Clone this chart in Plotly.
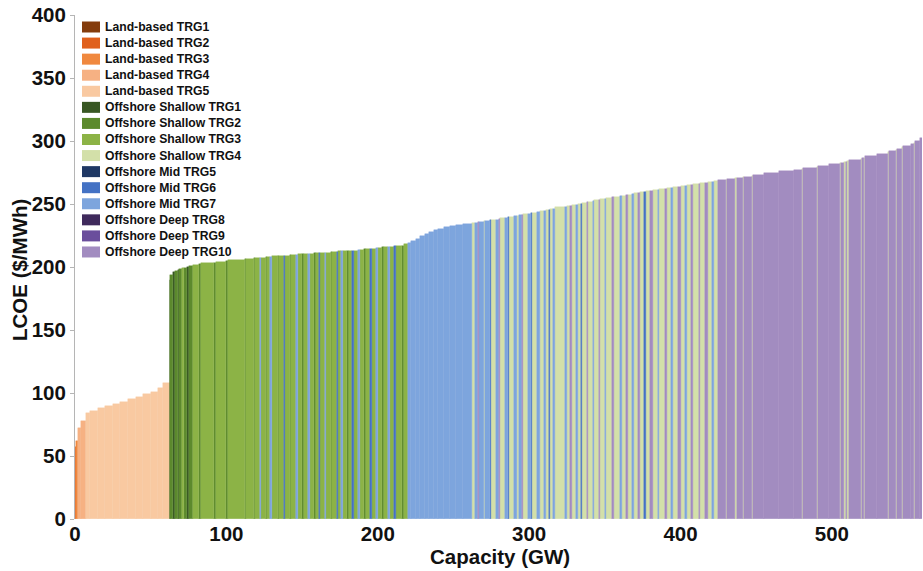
import plotly.graph_objects as go

# ---------------- data ----------------
trg_names = [
    "Land-based TRG1", "Land-based TRG2", "Land-based TRG3", "Land-based TRG4", "Land-based TRG5",
    "Offshore Shallow TRG1", "Offshore Shallow TRG2", "Offshore Shallow TRG3", "Offshore Shallow TRG4",
    "Offshore Mid TRG5", "Offshore Mid TRG6", "Offshore Mid TRG7",
    "Offshore Deep TRG8", "Offshore Deep TRG9", "Offshore Deep TRG10",
]
trg_codes = ["L1", "L2", "L3", "L4", "L5", "S1", "S2", "S3", "S4", "M5", "M6", "M7", "D8", "D9", "D10"]
trg_colors = [
    "#843C0C", "#E0601C", "#F0883E", "#F6B183", "#F9C9A1",
    "#385723", "#5C8A2D", "#8CB346", "#D3E0A9",
    "#1F3864", "#4472C4", "#7DA5DD",
    "#3F2A5C", "#6A4E9C", "#A28CC0",
]

# cumulative capacity (GW) at the end of each supply-curve step
seg_end = [
    0.6, 2.0, 4.0, 7.0, 10, 15, 20, 25, 30, 35, 40, 45, 50, 55, 58, 62.5,
    63, 64.5, 66, 68, 69, 71, 72, 74, 75, 78, 82, 83, 92, 93, 100, 101, 112, 113, 118, 119,
    122, 123, 126, 127, 129, 130, 134, 135, 138, 139, 142, 143, 146, 147, 150, 151, 154, 155,
    158, 159, 161, 162, 165, 166, 169, 170, 173, 174, 176, 177, 180, 181, 183, 184, 187, 188,
    191, 192, 195, 196, 199, 200, 203, 204, 207, 208, 211, 212, 216, 217, 220,
    222, 225, 228, 231, 234, 237, 240, 244, 248, 252, 256, 262,
    264, 266, 267, 270, 271, 274, 275, 278, 280, 281, 284, 286, 287, 290, 292, 293, 295, 296,
    299, 301, 302, 305, 307, 310, 311, 313, 314, 316, 317, 324, 325, 327, 328, 331, 332, 334,
    335, 338, 339, 342, 343, 346, 347, 350, 351, 355, 356, 360, 361, 364, 365, 368, 369, 372,
    373, 376, 377, 380, 382, 385, 386, 390, 391, 394, 395, 398, 400, 403, 404, 407, 408, 412,
    413, 416, 418, 421, 422, 425,
    430, 431, 436, 437, 441, 442, 447, 448, 455, 465, 475, 480, 481, 490, 491, 498, 505, 506,
    508, 509, 510, 511, 519, 520, 521, 522, 530, 537, 538, 542, 543, 546, 547, 552, 554, 555,
    558, 560,
]

# LCOE ($/MWh) of each step
seg_lcoe = [
    57, 62, 72, 78, 84, 86, 88, 90, 91.5, 93, 95, 97, 99, 101, 104, 108,
    190, 194, 196, 197, 198, 198.5, 199, 199.5, 200, 201, 201.5, 202, 203, 203.5, 204, 204.5,
    205.5, 206, 206.5, 207, 207, 207.5, 207.5, 208, 208, 208, 208.5, 208.5, 209, 209, 209,
    209.5, 209.5, 209.5, 210, 210, 210, 210.5, 210.5, 211, 211, 211, 211, 211.5, 211.5, 212,
    212, 212, 212.5, 212.5, 212.5, 213, 213, 213, 213, 213.5, 213.5, 214, 214, 214, 214.5, 215,
    215, 215.5, 215.5, 216, 216, 216.5, 217, 217, 218,
    219, 220.5, 222.5, 224.5, 226.5, 228, 229, 230.5, 231.5, 232.5, 233.5, 234.5,
    235, 235.3, 235.6, 236, 236.2, 236.6, 237, 237.3, 237.7, 238, 238.5, 239, 239.3, 239.8,
    240.3, 240.6, 241, 241.3, 241.8, 242.2, 242.5, 243, 243.6, 244.2, 244.6, 245, 245.4, 245.8,
    246.2, 247.5, 248, 248.3, 248.6, 249.2, 249.6, 250, 250.4, 250.9, 251.3, 251.8, 252.2, 252.8,
    253.3, 253.8, 254.2, 254.8, 255.2, 255.7, 256.2, 256.6, 257, 257.5, 258, 258.4, 258.8, 259.2,
    259.6, 260, 260.4, 260.8, 261.2, 261.7, 262.2, 262.6, 263, 263.4, 263.8, 264.2, 264.6, 265,
    265.3, 265.8, 266.2, 266.6, 267, 267.4, 267.8, 268.2,
    268.8, 269.2, 269.8, 270.3, 270.8, 271.2, 271.8, 272.3, 273.2, 274.5, 276, 277.2, 277.6,
    278.5, 279, 280, 281.5, 282.2, 282.6, 283, 283.4, 283.8, 285, 286, 286.4, 286.8, 288, 290,
    291, 292, 293, 294, 295, 296, 297.5, 298.5, 300, 302,
]

# resource class (TRG) of each step
seg_trg = [
    "L2", "L3", "L4", "L4", "L5", "L5", "L5", "L5", "L5", "L5", "L5", "L5", "L5", "L5", "L5", "L5",
    "S1", "S2", "S1", "S2", "S1", "S2", "S3", "S2", "S1", "S2", "S3", "S2", "S3", "S2", "S3", "S2",
    "S3", "S2", "S3", "S2", "S3", "M7", "S3", "S2", "S3", "M7", "S3", "S2", "S3", "M6", "S3", "S2",
    "S3", "M7", "S3", "S2", "S3", "M7", "S3", "S2", "S3", "M6", "S3", "M7", "S3", "S2", "S3", "M6",
    "S3", "M7", "S3", "S2", "S3", "M6", "S3", "M7", "S3", "S2", "S3", "M6", "S3", "M7", "S3", "S2",
    "S3", "M7", "S3", "M6", "S3", "S2", "S3",
    "M7", "M7", "M7", "M7", "M7", "M7", "M7", "M7", "M7", "M7", "M7", "M7",
    "S4", "M7", "D10", "M7", "S4", "M7", "M6", "S4", "M7", "D10", "S4", "M7", "M6", "S4",
    "M7", "S4", "M7", "D10", "S4", "M7", "M6", "S4", "M7", "S4", "M7", "S4", "M6", "S4",
    "M7", "S4", "M7", "S4", "D10", "S4", "M7", "S4", "M6", "S4", "D10", "S4", "M7", "S4",
    "D10", "S4", "M7", "S4", "D10", "S4", "M7", "S4", "D10", "S4", "M7", "S4", "D10", "S4",
    "M6", "S4", "D10", "S4", "M7", "S4", "D10", "S4", "M7", "S4", "D10", "S4", "M7", "S4",
    "D10", "S4", "D10", "S4", "D10", "S4", "M7", "S4",
    "D10", "S4", "D10", "S4", "D10", "S4", "D10", "S4", "D10", "D10", "D10", "D10", "S4",
    "D10", "S4", "D10", "D10", "S4", "D10", "S4", "D10", "S4", "D10", "S4", "D10", "S4", "D10",
    "D10", "S4", "D10", "S4", "D10", "S4", "D10", "D10", "S4", "D10", "D10",
]

x_ticks = [0, 100, 200, 300, 400, 500]
y_ticks = [0, 50, 100, 150, 200, 250, 300, 350, 400]

# ---------------- figure ----------------
W, H = 923, 571
ML, MR, MT, MB = 75, 1, 15, 52
PW, PH = W - ML - MR, H - MT - MB

seg_start = [0] + seg_end[:-1]
fig = go.Figure()
for code, name, color in zip(trg_codes, trg_names, trg_colors):
    idx = [i for i, t in enumerate(seg_trg) if t == code]
    if not idx:
        continue
    xs = [(seg_start[i] + seg_end[i]) / 2 for i in idx]
    ws = [seg_end[i] - seg_start[i] for i in idx]
    ys = [seg_lcoe[i] for i in idx]
    fig.add_trace(go.Bar(
        x=xs, y=ys, width=ws, name=name, showlegend=False,
        marker=dict(color=color, line=dict(width=0.4, color=color)),
        hovertemplate=name + "<br>%{x:.0f} GW<br>%{y:.0f} $/MWh<extra></extra>",
    ))

FONT = "Liberation Sans, Arial, sans-serif"

# legend drawn as swatches + labels (tight spacing as in the reference)
shapes, annotations = [], []
for i, (name, color) in enumerate(zip(trg_names, trg_colors)):
    yc = 27 + i * 16.07
    y0 = 1 - (yc + 5.5 - MT) / PH
    y1 = 1 - (yc - 5.5 - MT) / PH
    x0 = (82 - ML) / PW
    x1 = (100 - ML) / PW
    shapes.append(dict(type="rect", xref="paper", yref="paper", x0=x0, x1=x1, y0=y0, y1=y1,
                       fillcolor=color, line=dict(width=0), layer="above"))
    annotations.append(dict(xref="paper", yref="paper", x=(103 - ML) / PW, y=1 - (yc - MT) / PH,
                            text=name, showarrow=False, xanchor="left", yanchor="middle",
                            font=dict(family=FONT, size=12.2, color="#111111", weight="bold")))

# axis titles placed as in the reference
title_font = dict(family=FONT, size=20.5, color="#111111", weight="bold")
annotations.append(dict(xref="paper", yref="paper", x=(500 - ML) / PW, y=-(556 - (H - MB)) / PH,
                        text="Capacity (GW)", showarrow=False, xanchor="center", yanchor="middle",
                        font=title_font))
annotations.append(dict(xref="paper", yref="paper", x=-(ML - 19) / PW, y=1 - (270 - MT) / PH,
                        text="LCOE ($/MWh)", showarrow=False, xanchor="center", yanchor="middle",
                        textangle=-90, font=title_font))

tick_font = dict(family=FONT, size=20.5, color="#111111", weight="bold")
fig.update_layout(
    width=W, height=H,
    margin=dict(l=ML, r=MR, t=MT, b=MB, pad=0),
    paper_bgcolor="white", plot_bgcolor="white",
    barmode="overlay", bargap=0,
    shapes=shapes, annotations=annotations,
    showlegend=False,
    xaxis=dict(range=[0, 559.5], tickvals=x_ticks, ticks="", showline=False, showgrid=False,
               zeroline=False, tickfont=tick_font, automargin=False),
    yaxis=dict(range=[0, 400], tickvals=y_ticks, ticks="outside", ticklen=4, tickcolor="#b5b5b5",
               showline=True, linecolor="#b5b5b5", linewidth=1, showgrid=False, zeroline=False,
               tickfont=tick_font, automargin=False),
)

fig.write_html("out.html", config={"displayModeBar": False},
               post_script="document.body.style.margin='0';document.body.style.overflow='hidden';")
